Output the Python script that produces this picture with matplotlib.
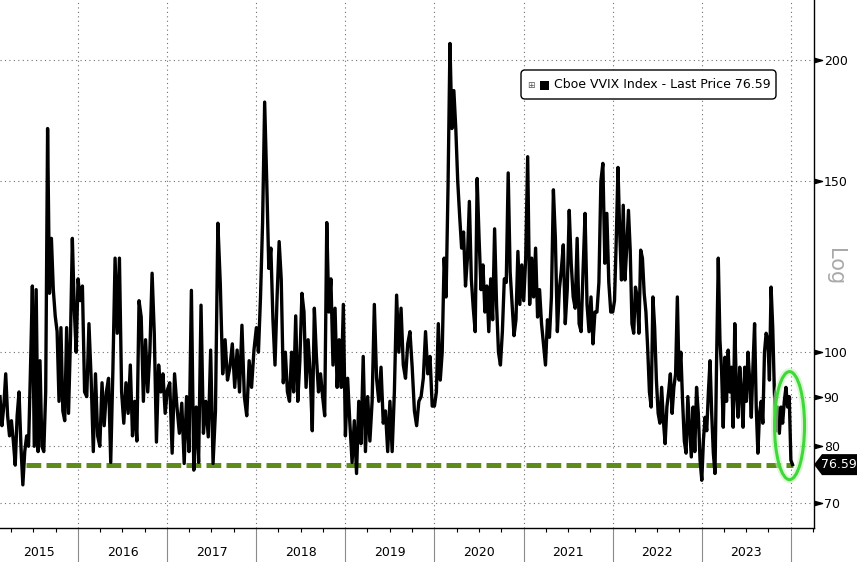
"""Cboe VVIX index, 2015-2023, log scale, with the ~76.6 floor marked."""

import matplotlib
matplotlib.use("Agg")
import matplotlib.dates as mdates
import matplotlib.pyplot as plt
import matplotlib.transforms as mtransforms
import numpy as np
import pandas as pd
from matplotlib.patches import Ellipse, FancyBboxPatch, Polygon, Rectangle
from matplotlib.ticker import FixedLocator, FuncFormatter, NullLocator

W, H = 857, 562

# values, roughly evenly spaced within each year
vvix_2015 = [90, 84, 88, 95, 86, 82, 85, 81, 76.5, 86, 91, 80, 73, 79, 82, 80, 96, 117,
             80, 116, 79, 98, 80, 79, 91, 170, 115, 131, 116, 109, 105, 89, 106, 87, 85,
             106, 86.5, 103, 131, 111, 100]
vvix_2016 = [119, 113, 117, 91, 90, 107, 94, 79, 95, 82, 80, 93, 84, 91, 94, 77, 96, 125,
             104.6, 125, 91, 84.5, 93, 86.5, 97, 82, 89, 81, 113, 108.7, 89, 103, 91,
             100.5, 120.6, 104.6, 80.8, 97, 91, 95, 86.5]
vvix_2017 = [91.4, 93, 78.7, 95, 87.8, 82.5, 88.6, 76.8, 90, 79, 115.8, 75.6, 87.8, 77,
             111.8, 82.5, 89, 81.8, 100.5, 76.8, 87, 135.8, 117.8, 95, 103, 93.6, 96.5,
             102, 92, 100.5, 91, 106.6, 90, 86, 98, 92, 100.5]
vvix_2018 = [106, 100, 114, 136, 181, 150, 122, 128, 108, 97, 114, 130, 119, 93, 100, 91,
             89, 100, 91, 109, 89, 98, 115, 110, 92, 103, 95, 83, 111, 99, 91, 95, 90, 86,
             136, 110, 119, 97, 111, 92, 103, 92, 112]
vvix_2019 = [82, 94, 84.5, 77, 85, 75, 89, 80.5, 99, 79, 90, 81, 89, 112, 94, 89, 96.5,
             84.5, 87, 79, 89, 79, 91, 114.5, 100, 111, 97, 94, 102, 105, 96.5, 87, 84,
             89, 90, 94, 105, 95, 99, 88]
vvix_2020 = [88, 91, 107, 93.6, 100, 125, 114, 148, 208, 170, 186, 170, 150, 138, 128,
             133, 117, 125, 143, 119, 111, 105, 151, 131, 116, 123, 110, 117, 105, 119,
             108, 134, 112, 100, 97, 105, 119, 118, 153, 121, 112, 104, 108, 127, 112, 123]
vvix_2021 = [113, 125, 159, 112, 125, 114, 128, 108.7, 116, 107, 102, 97, 108, 103.6, 114,
             147, 131, 105, 116, 121.5, 129, 107, 116, 140, 123.5, 114, 111, 131, 107, 105,
             121.5, 139, 112, 105, 114, 102, 110, 110, 118, 150, 156.5, 123.5, 139, 118, 110]
vvix_2022 = [110, 113, 130.5, 155, 132.6, 118.7, 141.7, 118.7, 128, 140, 127.4, 107, 104.6,
             116.7, 114, 104.6, 127.4, 125, 115, 110, 101, 91, 87.8, 114, 106, 93.6, 86.5,
             84.5, 92, 85, 80.5, 87.8, 91, 95, 86.5, 92, 95, 114, 93.6, 100, 89, 81, 78.7,
             90, 83.7, 78, 87.8, 79, 92, 86.5, 77.4]
vvix_2023 = [73.8, 81.2, 85.7, 83, 91, 98, 86.5, 78.7, 75, 98.8, 125, 102.9, 95.7, 83.7,
             98.8, 89, 100.5, 91, 96.5, 83.7, 107, 91, 85.7, 96.5, 91, 83.7, 96.5, 89, 100,
             93.6, 85.7, 96.5, 107, 87.8, 78.7, 86.5, 89, 84.5, 100, 104.6, 103, 93.6,
             116.7, 106, 91, 83, 87.8, 82.5, 87.8, 84.5, 89, 92, 87.8, 90, 77.4, 76.59]

years = [2015, 2016, 2017, 2018, 2019, 2020, 2021, 2022, 2023]
series = [vvix_2015, vvix_2016, vvix_2017, vvix_2018, vvix_2019, vvix_2020, vvix_2021,
          vvix_2022, vvix_2023]
first_day = "2015-02-15"
last_day = "2024-01-08"
axis_end = "2024-04-05"
last_price = 76.59
floor_start = "2015-06-01"
y_ticks = [70, 80, 90, 100, 150, 200]
legend_label = f"Cboe VVIX Index - Last Price {last_price:.2f}"

GREEN = "#5d8c1a"
GRID = dict(ls=(0, (1, 3)), color="#707070", lw=0.8, zorder=1)

dates = []
for yr, vals in zip(years, series):
    start = first_day if yr == years[0] else f"{yr}-01-01"
    if yr == years[-1]:
        d = pd.date_range(start, last_day, periods=len(vals))
    else:
        d = pd.date_range(start, f"{yr + 1}-01-01", periods=len(vals) + 1)[:-1]
    dates.extend(d)
dates = pd.DatetimeIndex(dates)
values = np.concatenate([np.asarray(s, float) for s in series])

fig = plt.figure(figsize=(W / 100, H / 100), dpi=100)
ax = fig.add_axes([0, 1 - 528 / H, 814 / W, 528 / H])

x0, x1 = mdates.date2num(pd.Timestamp(first_day)), mdates.date2num(pd.Timestamp(axis_end))
ax.plot(mdates.date2num(dates), values, color="black", lw=2.4, zorder=3)
ax.hlines(last_price, mdates.date2num(pd.Timestamp(floor_start)),
          mdates.date2num(dates[-1]), colors=GREEN, lw=3.6,
          linestyles=[(0, (2.95, 1.05))], zorder=2)

ax.set_yscale("log")
ax.set_ylim(65.9, 230.6)
ax.set_xlim(x0, x1)

ax.yaxis.set_major_locator(FixedLocator(y_ticks))
ax.yaxis.set_major_formatter(FuncFormatter(lambda v, _: f"{v:g}"))
ax.yaxis.set_minor_locator(NullLocator())
ax.yaxis.tick_right()
ax.tick_params(axis="y", length=0, pad=7, labelsize=9)

year_edges = [mdates.date2num(pd.Timestamp(f"{y}-01-01")) for y in years[1:] + [years[-1] + 1]]
quarters = [mdates.date2num(d) for d in pd.date_range("2015-04-01", axis_end, freq="QS")]
ax.xaxis.set_major_locator(FixedLocator(year_edges))
ax.xaxis.set_minor_locator(FixedLocator([q for q in quarters if q not in year_edges]))
ax.tick_params(axis="x", which="major", length=24.5, width=0.8, color="#8a8a8a",
               labelbottom=False)
ax.tick_params(axis="x", which="minor", length=3, width=0.8, color="black",
               labelbottom=False)

# dotted grid drawn by hand: year boundaries and the labelled levels only
ax.xaxis.grid(False, which="both")
ax.yaxis.grid(False, which="both")
for e in year_edges:
    ax.axvline(e, **GRID)
for v in y_ticks:
    ax.axhline(v, **GRID)

for side in ("top", "left"):
    ax.spines[side].set_visible(False)
for side in ("bottom", "right"):
    ax.spines[side].set_linewidth(1.0)

xt = mtransforms.blended_transform_factory(ax.transData, ax.transAxes)
for yr in years:
    lo = max(mdates.date2num(pd.Timestamp(f"{yr}-01-01")), x0)
    hi = mdates.date2num(pd.Timestamp(f"{yr + 1}-01-01"))
    ax.text((lo + hi) / 2, -0.046, str(yr), transform=xt, ha="center", va="center",
            fontsize=9)

ident = mtransforms.IdentityTransform()

# triangle tick markers on the right spine
tri = [(-1, -0.55), (1, 0), (-1, 0.55)]
tri_x = ax.transAxes.transform((1, 0))[0] + 4
for v in y_ticks:
    ty = ax.transData.transform((x0, v))[1]
    fig.add_artist(plt.Line2D([tri_x], [ty], ls="none", marker=tri, ms=5.8,
                              color="black", transform=ident))

# last-price tag
spine_x = ax.transAxes.transform((1, 0))[0]
px, py = ax.transData.transform((mdates.date2num(dates[-1]), last_price))
tag = Polygon([(spine_x, py), (spine_x + 8, py + 10.5), (W, py + 10.5), (W, py - 10.5),
               (spine_x + 8, py - 10.5)], closed=True, fc="black", ec="none",
              transform=ident)
fig.add_artist(tag)
fig.text(spine_x + 25, py, f"{last_price:.2f}", color="white", fontsize=9, ha="center",
         va="center", transform=ident)

# highlight ellipse around the latest drop
for lw, col, a in [(5, "#c4f3b6", 0.6), (2.2, "#3fd83a", 1.0)]:
    fig.add_artist(Ellipse((px - 3, py + 39), 30, 108, fill=False, lw=lw, ec=col, alpha=a,
                           transform=ident))

# legend box
fig.add_artist(FancyBboxPatch((521, H - 99), 255, 29,
                              boxstyle="round,pad=0,rounding_size=4", fc="white",
                              ec="black", lw=1, transform=ident, zorder=5))
fig.text(531, H - 85, "\u229e", fontsize=6.5, color="#555555", ha="center", va="center",
         transform=ident, zorder=6)
fig.add_artist(Rectangle((540, H - 89.5), 8.5, 9, fc="black", ec="none", transform=ident,
                         zorder=6))
fig.text(554, H - 85, legend_label, fontsize=9, ha="left", va="center", transform=ident,
         zorder=6)

fig.text(835, H - 267, "Log", rotation=270, color="#a9a9a9", fontsize=15, ha="center",
         va="center", transform=ident)

fig.savefig("out.png", dpi=100)
